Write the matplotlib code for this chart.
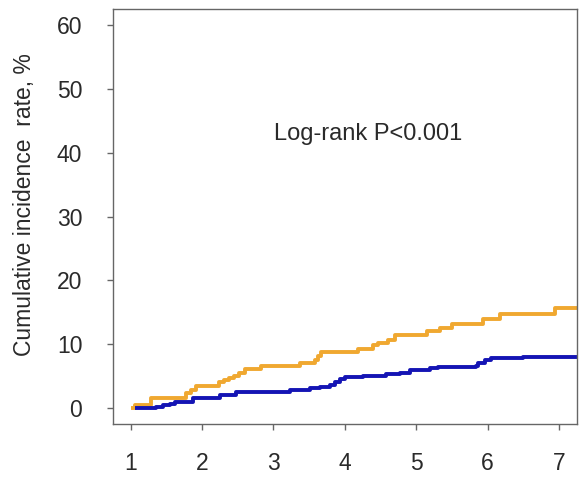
import numpy as np
import matplotlib
matplotlib.use("Agg")
import matplotlib.pyplot as plt

plt.rcParams['font.family'] = ['Liberation Sans', 'DejaVu Sans']

# step curves: times where a new value starts, and the value (%)
orange_t = [1.0, 1.06, 1.28, 1.78, 1.84, 1.92, 2.24, 2.31, 2.38, 2.45, 2.52, 2.60, 2.83, 3.37,
            3.58, 3.63, 3.67, 4.19, 4.40, 4.47, 4.61, 4.70, 5.15, 5.33, 5.50, 5.94, 6.17, 6.94]
orange_y = [0, 0.5, 1.5, 2.3, 2.8, 3.4, 4.0, 4.4, 4.7, 5.0, 5.5, 6.1, 6.6, 7.1,
            7.5, 8.2, 8.8, 9.3, 9.8, 10.2, 10.7, 11.4, 12.0, 12.5, 13.2, 13.9, 14.7, 15.6]

blue_t = [1.06, 1.36, 1.46, 1.55, 1.62, 1.88, 2.25, 2.48, 3.23, 3.51, 3.65, 3.79, 3.86, 3.93,
          4.00, 4.26, 4.58, 4.77, 4.91, 5.19, 5.30, 5.84, 5.87, 5.96, 6.05, 6.50]
blue_y = [0, 0.2, 0.5, 0.6, 1.0, 1.5, 2.0, 2.55, 2.9, 3.1, 3.3, 3.6, 4.1, 4.6,
          4.9, 5.0, 5.3, 5.5, 5.95, 6.2, 6.4, 6.6, 7.1, 7.5, 7.9, 8.05]
t_end = 7.25

x_ticks = [1, 2, 3, 4, 5, 6, 7]
y_ticks = [0, 10, 20, 30, 40, 50, 60]

fig = plt.figure(figsize=(5.79, 4.80), dpi=100)
ax = fig.add_axes([0.195, 0.1167, 0.8015, 0.8643])

ax.step(orange_t + [t_end], orange_y + [orange_y[-1]], where='post',
        color='#F0A830', lw=2.8, solid_capstyle='butt')
ax.step(blue_t + [t_end], blue_y + [blue_y[-1]], where='post',
        color='#1414B4', lw=2.8, solid_capstyle='butt')

ax.set_xlim(0.752, 7.25)
ax.set_ylim(-2.5, 62.5)
ax.set_xticks(x_ticks)
ax.set_yticks(y_ticks)

for s in ax.spines.values():
    s.set_color('#666666')
    s.set_linewidth(1.0)
ax.tick_params(direction='out', length=4, width=1.0, color='#666666',
               labelsize=16.5, labelcolor='#2a2a2a')
ax.tick_params(axis='y', pad=18)
ax.tick_params(axis='x', pad=16)

ax.set_ylabel('Cumulative incidence  rate, %', fontsize=16.5, color='#2a2a2a')
ax.yaxis.set_label_coords(-0.165, 0.53)

ax.text(4.33, 43, 'Log-rank P<0.001', fontsize=17, color='#2a2a2a',
        ha='center', va='center')

fig.savefig('out.png', dpi=100)
